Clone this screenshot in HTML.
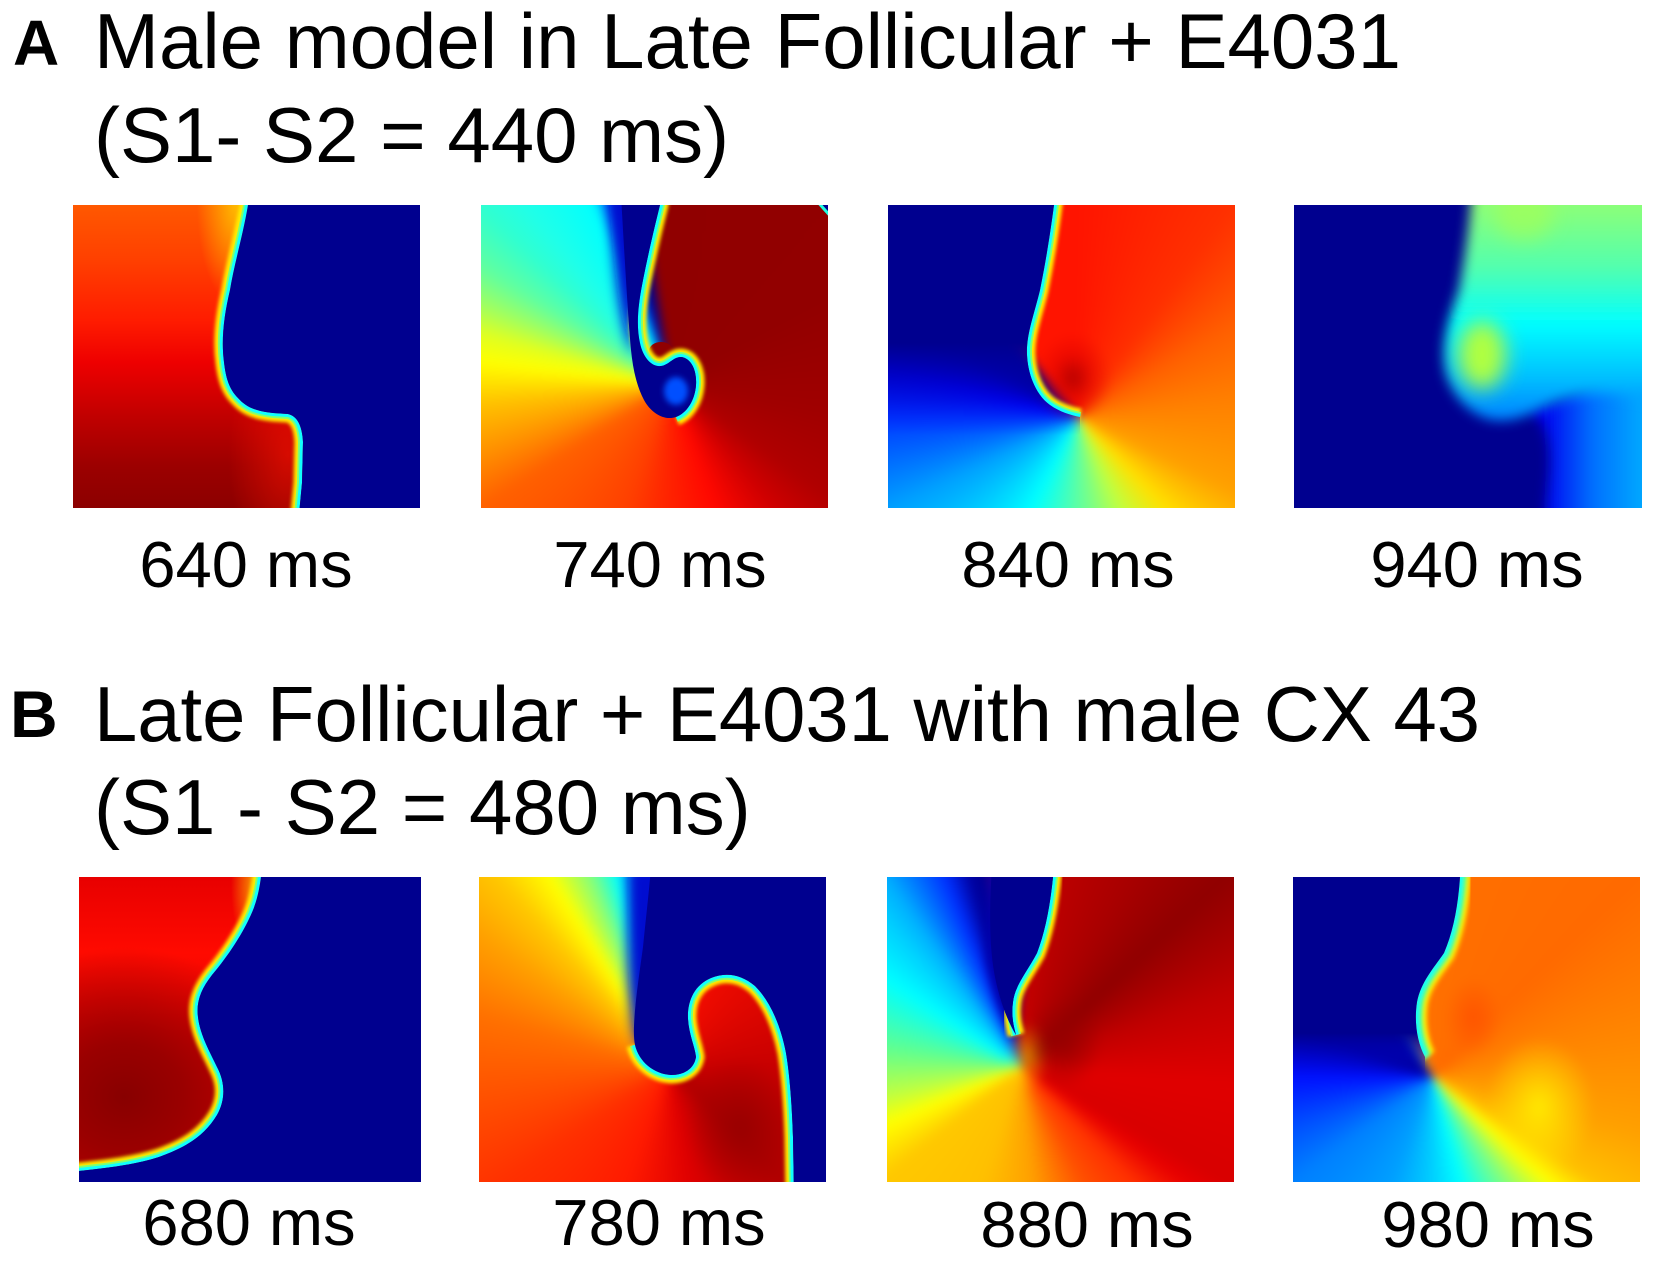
<!DOCTYPE html>
<html><head><meta charset="utf-8"><style>
html,body{margin:0;padding:0;background:#fff;}
#c{position:relative;width:1654px;height:1262px;overflow:hidden;background:#fff;}
.p{position:absolute;overflow:hidden;}
.p svg{position:absolute;left:0;top:0;overflow:hidden;}
.bg{position:absolute;left:-20px;top:-20px;right:-20px;bottom:-20px;filter:blur(5px);}
#t{position:absolute;left:0;top:0;}
text{font-family:"Liberation Sans",Arial,sans-serif;fill:#000;}
</style></head><body><div id="c">

<!-- A1 -->
<div class="p" style="left:73px;top:205px;width:347px;height:303px;background:
radial-gradient(ellipse 38px 100px at 162px 0px, rgba(255,200,0,0.85), rgba(255,120,0,0) 100%),
radial-gradient(ellipse 60px 120px at 215px 250px, rgba(255,20,0,0.55), rgba(255,0,0,0) 100%),
linear-gradient(180deg, #ff5800 0%, #ff4000 18%, #ff1c00 38%, #ee0000 52%, #c00000 70%, #9c0000 86%, #8c0000 100%);">
<svg width="347" height="303">
<defs>
<mask id="mA1" maskUnits="userSpaceOnUse" x="-50" y="-50" width="500" height="500"><rect x="-50" y="-50" width="500" height="500" fill="#fff"/><path fill="#000" d="M175,-10 L175,0 C170,30 161,60 157,85 C151,110 148,135 151,157 C153,175 157,185 165,193 C173,202 182,206 200,208 L215,209 C224,211 229,220 230,237 L229,278 L225,320 L360,320 L360,-10 Z"/></mask>
<filter id="fA1" x="-20%" y="-20%" width="140%" height="140%"><feGaussianBlur stdDeviation="1.8"/></filter>
</defs>
<g mask="url(#mA1)" fill="none">
<path stroke="#ffee00" stroke-width="17" filter="url(#fA1)" d="M175,-10 L175,0 C170,30 161,60 157,85 C151,110 148,135 151,157 C153,175 157,185 165,193 C173,202 182,206 200,208 L215,209 C224,211 229,220 230,237 L229,278 L225,320"/>
<path stroke="#80ff70" stroke-width="10" d="M175,-10 L175,0 C170,30 161,60 157,85 C151,110 148,135 151,157 C153,175 157,185 165,193 C173,202 182,206 200,208 L215,209 C224,211 229,220 230,237 L229,278 L225,320"/>
<path stroke="#10ffff" stroke-width="6" d="M175,-10 L175,0 C170,30 161,60 157,85 C151,110 148,135 151,157 C153,175 157,185 165,193 C173,202 182,206 200,208 L215,209 C224,211 229,220 230,237 L229,278 L225,320"/>
</g>
<path fill="#00008f" d="M175,-10 L175,0 C170,30 161,60 157,85 C151,110 148,135 151,157 C153,175 157,185 165,193 C173,202 182,206 200,208 L215,209 C224,211 229,220 230,237 L229,278 L225,320 L360,320 L360,-10 Z"/>
</svg></div>

<!-- A2 -->
<div class="p" style="left:481px;top:205px;width:347px;height:303px;">
<div class="bg" style="background:
conic-gradient(from 0deg at 210px 200px, #900000 0deg, #920000 60deg, #a00000 100deg, #b00000 125deg, #d00000 140deg, #ff0800 160deg, #ff2800 185deg, #ff4000 200deg, #ff6000 237deg, #ff9000 250deg, #ffc000 264deg, #ffff00 277deg, #e0ff20 285deg, #a0ff60 293deg, #60ffa0 302deg, #30ffd0 313deg, #20ffe8 321deg, #00ffff 337deg, #0040ff 342deg, #00008c 345deg, #00008c 350deg, #900000 352deg);"></div>
<svg width="347" height="303">
<defs>
<mask id="mA2" maskUnits="userSpaceOnUse" x="-50" y="-50" width="500" height="500"><rect x="-50" y="-50" width="500" height="500" fill="#fff"/><path fill="#000" d="M140,-10 L180,-10 L179,0 C174,20 168,45 162,75 C157,100 155,120 159,138 C162,152 170,162 180,161 C188,160 192,152 200,152 C210,153 216,165 215,180 C214,195 206,208 195,212 C183,216 170,208 163,195 C156,182 152,165 150,145 C147,110 144,60 140,-10 Z"/></mask>
<filter id="fA2" x="-20%" y="-20%" width="140%" height="140%"><feGaussianBlur stdDeviation="1.8"/></filter>
<filter id="hA2" x="-50%" y="-50%" width="200%" height="200%"><feGaussianBlur stdDeviation="6"/></filter>
<filter id="sA2" x="-50%" y="-50%" width="200%" height="200%"><feGaussianBlur stdDeviation="3"/></filter>
</defs>
<ellipse cx="180" cy="146" rx="12" ry="9" fill="#900000"/>
<path fill="#0010d0" filter="url(#hA2)" d="M128,-10 L160,-10 L156,100 L152,150 C140,120 134,80 128,-10 Z"/>
<g mask="url(#mA2)" fill="none">
<path stroke="#ffee00" stroke-width="17" filter="url(#fA2)" d="M180,-10 L179,0 C174,20 168,45 162,75 C157,100 155,120 159,138 C162,152 170,162 180,161 C188,160 192,152 200,152 C210,153 216,165 215,180 C214,195 206,208 195,212"/>
<path stroke="#80ff70" stroke-width="10" d="M180,-10 L179,0 C174,20 168,45 162,75 C157,100 155,120 159,138 C162,152 170,162 180,161 C188,160 192,152 200,152 C210,153 216,165 215,180 C214,195 206,208 195,212"/>
<path stroke="#10ffff" stroke-width="6" d="M180,-10 L179,0 C174,20 168,45 162,75 C157,100 155,120 159,138 C162,152 170,162 180,161 C188,160 192,152 200,152 C210,153 216,165 215,180 C214,195 206,208 195,212"/>
</g>
<path fill="#00008f" d="M140,-10 L180,-10 L179,0 C174,20 168,45 162,75 C157,100 155,120 159,138 C162,152 170,162 180,161 C188,160 192,152 200,152 C210,153 216,165 215,180 C214,195 206,208 195,212 C183,216 170,208 163,195 C156,182 152,165 150,145 C147,110 144,60 140,-10 Z"/>
<ellipse cx="195" cy="186" rx="12" ry="14" fill="#0050ff" filter="url(#sA2)"/>
<path d="M335,-5 L352,-5 L352,14 Z" fill="#00008f" stroke="#20ffe0" stroke-width="3"/>
</svg></div>

<!-- A3 -->
<div class="p" style="left:888px;top:205px;width:347px;height:303px;">
<div class="bg" style="background:
radial-gradient(ellipse 38px 45px at 205px 193px, rgba(180,0,0,0.95) 0%, rgba(220,0,0,0.5) 50%, rgba(255,20,0,0) 100%),
conic-gradient(from 0deg at 210px 232px, #ff1400 0deg, #ff3000 36deg, #ff6000 60deg, #ff8000 84deg, #ffa000 115deg, #ffe000 136deg, #c0ff40 155deg, #80ff80 170deg, #00ffff 207deg, #00a0ff 244deg, #0000ff 284deg, #0000a0 300deg, #00008f 310deg, #00008f 318deg, #ff1400 322deg);"></div>
<svg width="347" height="303">
<defs>
<linearGradient id="gA3" gradientUnits="userSpaceOnUse" x1="0" y1="0" x2="0" y2="230">
<stop offset="0" stop-color="#00008f" stop-opacity="1"/><stop offset="0.6" stop-color="#00008f" stop-opacity="1"/><stop offset="0.85" stop-color="#0000c0" stop-opacity="0.4"/><stop offset="1" stop-color="#0000ff" stop-opacity="0"/></linearGradient>
<mask id="mA3" maskUnits="userSpaceOnUse" x="-50" y="-50" width="500" height="500"><rect x="-50" y="-50" width="500" height="500" fill="#fff"/><path fill="#000" d="M-10,-10 L167,-10 L166,0 C162,30 158,55 152,85 C146,110 138,130 139,150 C140,170 148,190 162,200 C172,207 182,210 192,212 L192,230 L-10,230 Z"/></mask>
<filter id="fA3" x="-20%" y="-20%" width="140%" height="140%"><feGaussianBlur stdDeviation="1.8"/></filter>
</defs>
<g mask="url(#mA3)" fill="none">
<path stroke="#ffee00" stroke-width="17" filter="url(#fA3)" d="M167,-10 L166,0 C162,30 158,55 152,85 C146,110 138,130 139,150 C140,170 148,190 162,200 C172,207 182,210 192,212"/>
<path stroke="#80ff70" stroke-width="10" d="M167,-10 L166,0 C162,30 158,55 152,85 C146,110 138,130 139,150 C140,170 148,190 162,200 C172,207 182,210 192,212"/>
<path stroke="#10ffff" stroke-width="6" d="M167,-10 L166,0 C162,30 158,55 152,85 C146,110 138,130 139,150 C140,170 148,190 162,200 C172,207 182,210 192,212"/>
</g>
<path fill="url(#gA3)" d="M-10,-10 L167,-10 L166,0 C162,30 158,55 152,85 C146,110 138,130 139,150 C140,170 148,190 162,200 C172,207 182,210 192,212 L192,230 L-10,230 Z"/>
</svg></div>

<!-- A4 -->
<div class="p" style="left:1294px;top:205px;width:348px;height:303px;background:#00008f;">
<svg width="348" height="303">
<defs>
<filter id="bA4" x="-30%" y="-30%" width="160%" height="160%"><feGaussianBlur stdDeviation="6"/></filter>
<filter id="cA4" x="-50%" y="-50%" width="200%" height="200%"><feGaussianBlur stdDeviation="10"/></filter>
<linearGradient id="lA4" gradientUnits="userSpaceOnUse" x1="250" y1="0" x2="348" y2="0"><stop offset="0" stop-color="#0000f0"/><stop offset="0.5" stop-color="#0070ff"/><stop offset="1" stop-color="#00a8ff"/></linearGradient>
<linearGradient id="vA4" gradientUnits="userSpaceOnUse" x1="0" y1="0" x2="0" y2="215"><stop offset="0" stop-color="#8cff78"/><stop offset="0.3" stop-color="#50ffb0"/><stop offset="0.55" stop-color="#00ffff"/><stop offset="0.8" stop-color="#00c0ff"/><stop offset="1" stop-color="#0080ff"/></linearGradient>
</defs>
<path fill="url(#lA4)" filter="url(#bA4)" d="M235,205 C250,215 258,235 255,270 L250,320 L370,320 L370,150 C320,160 280,190 235,205 Z"/>
<path fill="url(#vA4)" filter="url(#bA4)" d="M178,-20 L370,-20 L370,200 C330,185 290,185 255,200 C235,210 218,218 198,215 C178,210 160,195 152,168 C146,140 156,110 165,85 C171,50 176,20 178,-20 Z"/>
<ellipse cx="188" cy="150" rx="24" ry="34" fill="#b0ff40" filter="url(#cA4)"/>
<ellipse cx="230" cy="10" rx="30" ry="25" fill="#a8ff50" opacity="0.6" filter="url(#cA4)"/>
</svg></div>

<!-- B1 -->
<div class="p" style="left:79px;top:877px;width:342px;height:305px;background:
radial-gradient(ellipse 26px 70px at 178px 10px, rgba(255,210,0,0.8), rgba(255,100,0,0) 100%),
radial-gradient(ellipse 170px 150px at 45px 220px, #880000 0%, #9a0000 35%, rgba(190,0,0,0) 100%),
linear-gradient(180deg, #e80000 0%, #ff0a00 25%, #dd0000 55%, #c00000 100%);">
<svg width="342" height="305">
<defs>
<mask id="mB1" maskUnits="userSpaceOnUse" x="-50" y="-50" width="500" height="500"><rect x="-50" y="-50" width="500" height="500" fill="#fff"/><path fill="#000" d="M183,-10 L182,0 C180,15 177,28 170,42 C163,57 150,78 133,98 C122,112 117,125 119,140 C121,158 131,175 138,190 C146,205 147,222 138,238 C126,258 108,270 80,280 C55,288 28,291 0,294 L-10,295 L-10,320 L360,320 L360,-10 Z"/></mask>
<filter id="fB1" x="-20%" y="-20%" width="140%" height="140%"><feGaussianBlur stdDeviation="1.8"/></filter>
</defs>
<g mask="url(#mB1)" fill="none">
<path stroke="#ffee00" stroke-width="17" filter="url(#fB1)" d="M183,-10 L182,0 C180,15 177,28 170,42 C163,57 150,78 133,98 C122,112 117,125 119,140 C121,158 131,175 138,190 C146,205 147,222 138,238 C126,258 108,270 80,280 C55,288 28,291 0,294 L-10,295"/>
<path stroke="#80ff70" stroke-width="10" d="M183,-10 L182,0 C180,15 177,28 170,42 C163,57 150,78 133,98 C122,112 117,125 119,140 C121,158 131,175 138,190 C146,205 147,222 138,238 C126,258 108,270 80,280 C55,288 28,291 0,294 L-10,295"/>
<path stroke="#10ffff" stroke-width="6" d="M183,-10 L182,0 C180,15 177,28 170,42 C163,57 150,78 133,98 C122,112 117,125 119,140 C121,158 131,175 138,190 C146,205 147,222 138,238 C126,258 108,270 80,280 C55,288 28,291 0,294 L-10,295"/>
</g>
<path fill="#00008f" d="M183,-10 L182,0 C180,15 177,28 170,42 C163,57 150,78 133,98 C122,112 117,125 119,140 C121,158 131,175 138,190 C146,205 147,222 138,238 C126,258 108,270 80,280 C55,288 28,291 0,294 L-10,295 L-10,320 L360,320 L360,-10 Z"/>
</svg></div>

<!-- B2 -->
<div class="p" style="left:479px;top:877px;width:347px;height:305px;">
<div class="bg" style="background:
radial-gradient(ellipse 55px 70px at 282px 270px, rgba(150,0,0,0.9) 0%, rgba(170,0,0,0) 100%),
conic-gradient(from 0deg at 210px 210px, #ff1000 0deg, #c80000 90deg, #b00000 135deg, #e00000 170deg, #ff1a00 200deg, #ff3000 235deg, #ff5000 260deg, #ff7000 285deg, #ffa000 305deg, #ffc800 318deg, #ffff00 328deg, #80ff80 338deg, #00ffff 345deg, #0060ff 352deg, #0000c0 357deg, #ff1000 360deg);"></div>
<svg width="347" height="305">
<defs>
<mask id="mB2" maskUnits="userSpaceOnUse" x="-50" y="-50" width="500" height="500"><rect x="-50" y="-50" width="500" height="500" fill="#fff"/><path fill="#000" d="M172,-10 L360,-10 L360,320 L315,320 L314,260 C313,230 311,200 307,176 C302,150 292,125 276,109 C262,97 246,95 232,101 C215,108 208,125 209,142 C210,158 216,170 217,180 C215,192 205,198 192,198 C175,197 160,185 156,168 C152,150 160,100 164,70 C167,40 170,15 172,-10 Z"/></mask>
<filter id="fB2" x="-20%" y="-20%" width="140%" height="140%"><feGaussianBlur stdDeviation="1.8"/></filter>
<filter id="hB2" x="-50%" y="-50%" width="200%" height="200%"><feGaussianBlur stdDeviation="6"/></filter>
</defs>
<path fill="#0010d0" filter="url(#hB2)" d="M150,-10 L185,-10 L185,170 L160,168 C150,150 148,100 150,-10 Z"/>
<g mask="url(#mB2)" fill="none">
<path stroke="#ffee00" stroke-width="17" filter="url(#fB2)" d="M315,320 L314,260 C313,230 311,200 307,176 C302,150 292,125 276,109 C262,97 246,95 232,101 C215,108 208,125 209,142 C210,158 216,170 217,180 C215,192 205,198 192,198 C175,197 160,185 156,168"/>
<path stroke="#80ff70" stroke-width="10" d="M315,320 L314,260 C313,230 311,200 307,176 C302,150 292,125 276,109 C262,97 246,95 232,101 C215,108 208,125 209,142 C210,158 216,170 217,180 C215,192 205,198 192,198 C175,197 160,185 156,168"/>
<path stroke="#10ffff" stroke-width="6" d="M315,320 L314,260 C313,230 311,200 307,176 C302,150 292,125 276,109 C262,97 246,95 232,101 C215,108 208,125 209,142 C210,158 216,170 217,180 C215,192 205,198 192,198 C175,197 160,185 156,168"/>
</g>
<path fill="#00008f" d="M172,-10 L360,-10 L360,320 L315,320 L314,260 C313,230 311,200 307,176 C302,150 292,125 276,109 C262,97 246,95 232,101 C215,108 208,125 209,142 C210,158 216,170 217,180 C215,192 205,198 192,198 C175,197 160,185 156,168 C152,150 160,100 164,70 C167,40 170,15 172,-10 Z"/>
</svg></div>

<!-- B3 -->
<div class="p" style="left:887px;top:877px;width:347px;height:305px;">
<div class="bg" style="background:
radial-gradient(ellipse 38px 45px at 197px 186px, rgba(150,0,0,0.9) 0%, rgba(200,0,0,0) 100%),
radial-gradient(ellipse 22px 35px at 160px 200px, rgba(255,230,0,0.6), rgba(255,200,0,0) 100%),
conic-gradient(from 0deg at 155px 210px, #c80000 0deg, #a80000 30deg, #900000 47deg, #c00000 70deg, #e00000 95deg, #d80000 119deg, #e80000 125deg, #ff3000 136deg, #ff5000 152deg, #ffa000 175deg, #ffc000 199deg, #ffc800 231deg, #ffff00 247deg, #c0ff40 258deg, #60ff90 278deg, #00ffff 303deg, #00d0ff 317deg, #00b0ff 324deg, #0030ff 338deg, #0000a0 345deg, #00008f 350deg, #c80000 352deg);"></div>
<svg width="347" height="305">
<defs>
<mask id="mB3" maskUnits="userSpaceOnUse" x="-50" y="-50" width="500" height="500"><rect x="-50" y="-50" width="500" height="500" fill="#fff"/><path fill="#000" d="M105,-10 L167,-10 L166,0 C163,30 158,55 150,76 C140,95 128,108 126,125 C124,140 127,150 129,158 C118,140 108,110 105,80 C102,50 103,20 105,-10 Z"/></mask>
<filter id="fB3" x="-20%" y="-20%" width="140%" height="140%"><feGaussianBlur stdDeviation="1.8"/></filter>
<filter id="hB3" x="-50%" y="-50%" width="200%" height="200%"><feGaussianBlur stdDeviation="5"/></filter>
</defs>
<path fill="#0000b0" filter="url(#hB3)" d="M100,-10 L140,-10 L135,100 L128,158 C115,140 104,110 100,80 Z"/>
<g mask="url(#mB3)" fill="none">
<path stroke="#ffee00" stroke-width="17" filter="url(#fB3)" d="M167,-10 L166,0 C163,30 158,55 150,76 C140,95 128,108 126,125 C124,140 127,150 129,158"/>
<path stroke="#80ff70" stroke-width="10" d="M167,-10 L166,0 C163,30 158,55 150,76 C140,95 128,108 126,125 C124,140 127,150 129,158"/>
<path stroke="#10ffff" stroke-width="6" d="M167,-10 L166,0 C163,30 158,55 150,76 C140,95 128,108 126,125 C124,140 127,150 129,158"/>
</g>
<path fill="#00008f" d="M105,-10 L167,-10 L166,0 C163,30 158,55 150,76 C140,95 128,108 126,125 C124,140 127,150 129,158 C118,140 108,110 105,80 C102,50 103,20 105,-10 Z"/>
</svg></div>

<!-- B4 -->
<div class="p" style="left:1293px;top:877px;width:347px;height:305px;">
<div class="bg" style="background:
radial-gradient(ellipse 28px 40px at 200px 160px, rgba(255,80,0,0.85), rgba(255,110,0,0) 100%),
radial-gradient(ellipse 55px 70px at 266px 250px, rgba(255,240,0,0.9), rgba(255,200,0,0) 100%),
conic-gradient(from 0deg at 160px 220px, #ff7000 0deg, #ff6a00 46deg, #ff8800 80deg, #ffa000 105deg, #ffc000 123deg, #ffff00 132deg, #80ff80 146deg, #00ffff 165deg, #00d0ff 180deg, #00a0ff 201deg, #0080ff 233deg, #0050ff 250deg, #0010ff 270deg, #00008f 290deg, #00008f 325deg, #00ffff 329deg, #ffff00 333deg, #ff7000 338deg);"></div>
<svg width="347" height="305">
<defs>
<linearGradient id="gB4" gradientUnits="userSpaceOnUse" x1="0" y1="0" x2="0" y2="200">
<stop offset="0" stop-color="#00008f" stop-opacity="1"/><stop offset="0.78" stop-color="#00008f" stop-opacity="1"/><stop offset="1" stop-color="#0000ff" stop-opacity="0"/></linearGradient>
<mask id="mB4" maskUnits="userSpaceOnUse" x="-50" y="-50" width="500" height="500"><rect x="-50" y="-50" width="500" height="500" fill="#fff"/><path fill="#000" d="M-10,-10 L168,-10 L167,0 C165,30 160,55 151,76 C140,92 128,105 124,125 C121,145 124,165 132,180 L132,200 L-10,200 Z"/></mask>
<filter id="fB4" x="-20%" y="-20%" width="140%" height="140%"><feGaussianBlur stdDeviation="2.5"/></filter>
</defs>
<g mask="url(#mB4)" fill="none">
<path stroke="#ffee00" stroke-width="22" filter="url(#fB4)" d="M168,-10 L167,0 C165,30 160,55 151,76 C140,92 128,105 124,125 C121,145 124,165 132,180"/>
<path stroke="#80ff70" stroke-width="13" filter="url(#fB4)" d="M168,-10 L167,0 C165,30 160,55 151,76 C140,92 128,105 124,125 C121,145 124,165 132,180"/>
<path stroke="#10ffff" stroke-width="8" filter="url(#fB4)" d="M168,-10 L167,0 C165,30 160,55 151,76 C140,92 128,105 124,125 C121,145 124,165 132,180"/>
</g>
<path fill="url(#gB4)" d="M-10,-10 L168,-10 L167,0 C165,30 160,55 151,76 C140,92 128,105 124,125 C121,145 124,165 132,180 L132,200 L-10,200 Z"/>
</svg></div>

<svg id="t" width="1654" height="1262">
<text x="13" y="65" font-size="64" font-weight="bold">A</text>
<text x="94" y="68" font-size="78" textLength="1307" lengthAdjust="spacingAndGlyphs">Male model in Late Follicular + E4031</text>
<text x="94" y="162" font-size="78">(S1- S2 = 440 ms)</text>
<text x="10" y="737" font-size="66" font-weight="bold">B</text>
<text x="94" y="741" font-size="78" textLength="1386" lengthAdjust="spacingAndGlyphs">Late Follicular + E4031 with male CX 43</text>
<text x="94" y="834" font-size="78">(S1 - S2 = 480 ms)</text>
<text x="246" y="587" font-size="65" text-anchor="middle">640 ms</text>
<text x="660" y="587" font-size="65" text-anchor="middle">740 ms</text>
<text x="1068" y="587" font-size="65" text-anchor="middle">840 ms</text>
<text x="1477" y="587" font-size="65" text-anchor="middle">940 ms</text>
<text x="249" y="1245" font-size="65" text-anchor="middle">680 ms</text>
<text x="659" y="1245" font-size="65" text-anchor="middle">780 ms</text>
<text x="1087" y="1247" font-size="65" text-anchor="middle">880 ms</text>
<text x="1488" y="1247" font-size="65" text-anchor="middle">980 ms</text>
</svg>
</div></body></html>
